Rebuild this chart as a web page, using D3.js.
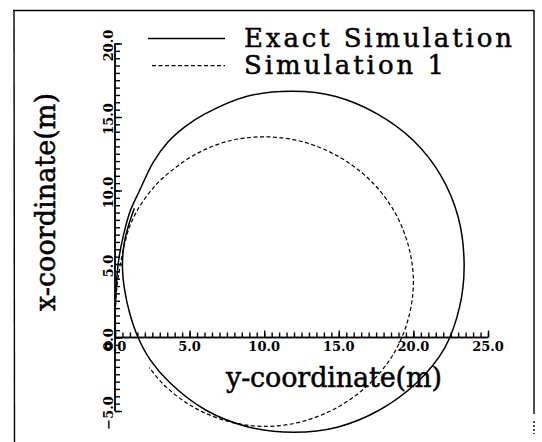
<!DOCTYPE html>
<html>
<head>
<meta charset="utf-8">
<script src="https://cdn.jsdelivr.net/npm/d3@7"></script>
<style>
  html, body { margin: 0; padding: 0; background: #fff; }
  svg { display: block; }
</style>
</head>
<body>
<svg id="chart" width="542" height="442"></svg>
<script>
// Turning trajectories: horizontal = y-coordinate (m), vertical = x-coordinate (m)
const exactY = [0, 0.02, 0.1, 0.28, 0.6, 1.02, 1.65, 2.55, 3.55, 4.7, 6.0, 8.8, 11.9, 14.8, 17.6, 20.0, 21.85, 23.0, 23.4,
                23.1, 22.1, 20.2, 17.7, 14.9, 12.0, 9.0, 6.1, 3.7, 2.35, 1.55, 1.0, 0.65, 0.5, 0.6, 0.9, 1.3];
const exactX = [0, 2.0, 3.8, 5.5, 7.1, 8.6, 10.0, 11.9, 13.3, 14.35, 15.2, 16.4, 16.75, 16.4, 15.2, 13.4, 11.0, 8.2, 5.0,
                2.1, -0.7, -3.1, -4.95, -6.1, -6.45, -6.1, -4.95, -3.1, -1.5, 0, 1.6, 3.2, 4.8, 6.3, 7.6, 8.8];

const sim1Y = [0, 0.03, 0.15, 0.35, 0.65, 1.0, 1.55, 2.3, 3.15, 5.2, 7.55, 10.1, 12.65, 15.0, 17.05, 18.65, 19.65, 20.0,
               19.65, 18.65, 17.05, 15.0, 12.6, 10.1, 7.55, 5.2, 3.3, 2.3];
const sim1X = [0, 2.0, 3.6, 4.9, 6.4, 7.6, 8.75, 9.85, 10.8, 12.35, 13.35, 13.65, 13.3, 12.3, 10.75, 8.7, 6.3, 3.8,
               1.25, -1.15, -3.15, -4.7, -5.7, -6.05, -5.7, -4.7, -3.25, -2.05];

const seriesNames = ["Exact Simulation", "Simulation 1"];
const hTickValues = [0, 5, 10, 15, 20, 25];
const vTickValues = [-5, 0, 5, 10, 15, 20];
const hTitle = "y-coordinate(m)";
const vTitle = "x-coordinate(m)";

const svg = d3.select("#chart");
const serif = "'DejaVu Serif', 'Liberation Serif', serif";

// outer frame (open at the bottom)
const frame = svg.append("g").attr("fill", "none").attr("stroke", "#000").attr("stroke-width", 1.4);
frame.append("line").attr("x1", 13).attr("y1", 10.5).attr("x2", 534).attr("y2", 10.5);
frame.append("line").attr("x1", 14).attr("y1", 10).attr("x2", 14.5).attr("y2", 442);
frame.append("line").attr("x1", 534).attr("y1", 10).attr("x2", 534).attr("y2", 414);
frame.append("line").attr("x1", 534).attr("y1", 421).attr("x2", 534).attr("y2", 434)
  .attr("stroke-dasharray", "2,2");

// scales
const x = d3.scaleLinear().domain([0, 25]).range([115, 488]);
const y = d3.scaleLinear().domain([-5, 20]).range([411, 43.5]);

// horizontal axis through the origin, ticks pointing up
const hAxisG = svg.append("g").attr("transform", `translate(0,${y(0)})`);
hAxisG.call(d3.axisBottom(x).ticks(50).tickSize(-5).tickFormat(""));
hAxisG.append("g").call(d3.axisBottom(x).tickValues(hTickValues).tickSize(-7).tickFormat(""));
hAxisG.selectAll("path.domain").attr("d", `M${x(0)},0H${x(25)}`);
hAxisG.selectAll("path, line").attr("stroke", "#000").attr("stroke-width", 1.4);

// vertical axis at y = 0, ticks pointing right
const vAxisG = svg.append("g").attr("transform", `translate(${x(0)},0)`);
vAxisG.call(d3.axisLeft(y).ticks(50).tickSize(-5).tickFormat(""));
vAxisG.append("g").call(d3.axisLeft(y).tickValues(vTickValues).tickSize(-7).tickFormat(""));
vAxisG.selectAll("path.domain").attr("d", `M0,${y(20)}V${y(-5)}`);
vAxisG.selectAll("path, line").attr("stroke", "#000").attr("stroke-width", 1.4);

const fmt = d3.format(".1f");

// tick labels
svg.append("g").selectAll("text").data(hTickValues).join("text")
  .attr("x", d => x(d))
  .attr("y", y(0) + 13)
  .attr("text-anchor", "middle")
  .attr("font-family", serif)
  .attr("font-weight", "bold")
  .attr("font-size", 13)
  .text(d => fmt(d));

svg.append("g").selectAll("text").data(vTickValues).join("text")
  .attr("transform", d => `translate(${x(0) - 2},${y(d) + 2}) rotate(-90)`)
  .attr("text-anchor", "middle")
  .attr("font-family", serif)
  .attr("font-weight", "bold")
  .attr("font-size", 13)
  .text(d => fmt(d));

// axis titles
svg.append("text")
  .attr("x", 226).attr("y", 387)
  .attr("font-family", serif).attr("font-size", 27)
  .attr("stroke", "#000").attr("stroke-width", 0.5)
  .attr("textLength", 216).attr("lengthAdjust", "spacing")
  .text(hTitle);

svg.append("text")
  .attr("transform", "translate(55,311) rotate(-90)")
  .attr("font-family", serif).attr("font-size", 27)
  .attr("stroke", "#000").attr("stroke-width", 0.5)
  .attr("textLength", 218).attr("lengthAdjust", "spacing")
  .text(vTitle);

// trajectories
const line = d3.line()
  .x(d => x(d[0]))
  .y(d => y(d[1]))
  .curve(d3.curveCatmullRom.alpha(0.5));

const exactPts = d3.zip(exactY, exactX);
const sim1Pts = d3.zip(sim1Y, sim1X);

svg.append("path")
  .attr("d", line(sim1Pts))
  .attr("fill", "none").attr("stroke", "#000")
  .attr("stroke-width", 1.2).attr("stroke-dasharray", "4,2.5");

svg.append("path")
  .attr("d", line(exactPts))
  .attr("fill", "none").attr("stroke", "#000")
  .attr("stroke-width", 1.5);

// legend
const legend = svg.append("g");
const legendRows = [
  { name: seriesNames[0], ly: 38.5, ty: 46.5, x1: 148, dash: null, len: 268, sw: 1.5 },
  { name: seriesNames[1], ly: 65.7, ty: 74, x1: 152, dash: "4,2.5", len: 200, sw: 1.2 }
];
legendRows.forEach(r => {
  legend.append("line")
    .attr("x1", r.x1).attr("x2", 225).attr("y1", r.ly).attr("y2", r.ly)
    .attr("stroke", "#000").attr("stroke-width", r.sw)
    .attr("stroke-dasharray", r.dash);
  legend.append("text")
    .attr("x", 244).attr("y", r.ty)
    .attr("font-family", serif).attr("font-size", 26)
    .attr("stroke", "#000").attr("stroke-width", 0.5)
    .attr("textLength", r.len).attr("lengthAdjust", "spacing")
    .text(r.name);
});
</script>
</body>
</html>
